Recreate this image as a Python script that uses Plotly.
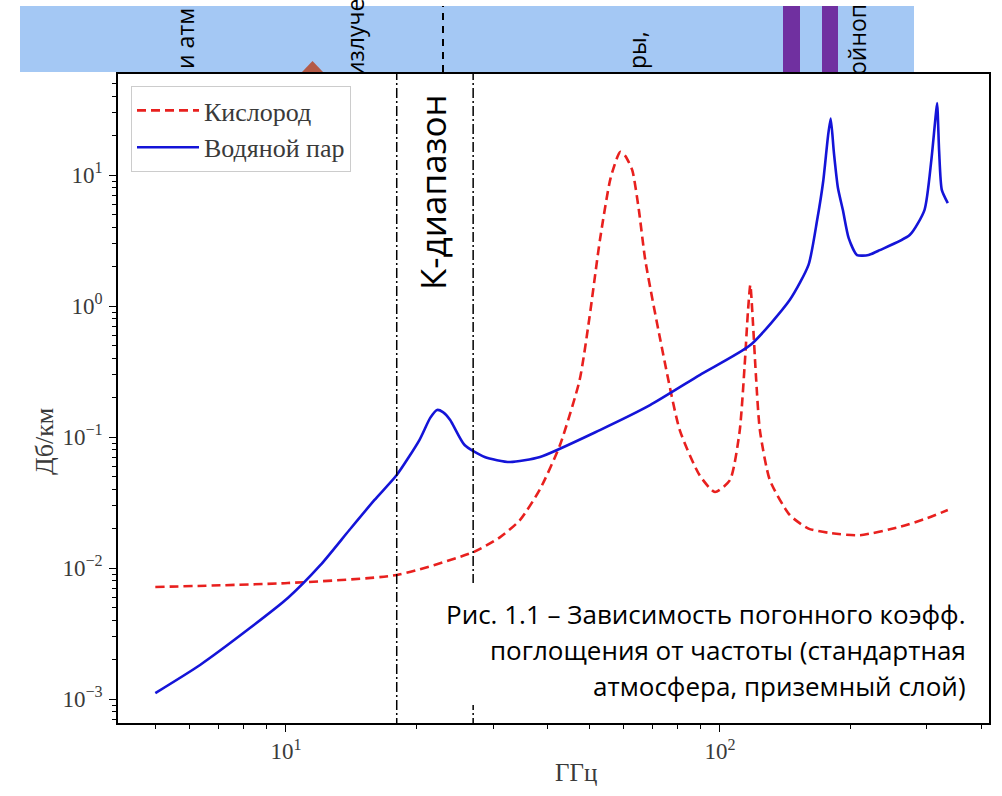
import numpy as np
import plotly.graph_objects as go

# ---------------- data ----------------
freq_o2 = [5, 10.1, 18, 27, 31, 34.6, 38.5, 42.8, 47.5, 50, 52.9, 56, 58.9, 60.5,
           62.8, 65, 67.3, 72.9, 80.8, 89.8, 97.4, 105.5, 111, 114, 116, 117.5,
           119, 121, 123.6, 130.3, 144.8, 160, 179.3, 210, 260, 300, 335]
att_o2 = [0.00716, 0.00768, 0.00885, 0.0132, 0.0170, 0.0232, 0.040, 0.0869, 0.272,
          0.80, 3.19, 9.5, 15.0, 14.0, 10.9, 5.5, 2.24, 0.55, 0.113, 0.051, 0.038,
          0.047, 0.11, 0.35, 0.90, 1.45, 0.80, 0.30, 0.113, 0.047, 0.0254, 0.020,
          0.0185, 0.0178, 0.0206, 0.024, 0.0277]

freq_h2o = [5, 6.34, 8.26, 10.1, 12, 14, 16, 18, 20.3, 21.5, 22.3, 23, 23.9, 25.8,
            28.7, 32.8, 38.5, 52.9, 69, 89.8, 117.5, 144.8, 160, 167.5, 173, 177.5,
            180, 183, 187, 192, 198, 207, 220, 233.5, 273.7, 296, 307, 313, 316.5,
            320, 324.5, 335]
att_h2o = [0.00111, 0.00182, 0.00348, 0.0059, 0.0105, 0.0195, 0.0331, 0.0513, 0.0948,
           0.14, 0.161, 0.155, 0.135, 0.0869, 0.0704, 0.0644, 0.0704, 0.113, 0.175,
           0.297, 0.503, 1.11, 2.06, 4.53, 9.0, 20.0, 27.0, 15.0, 8.0, 5.4, 3.3, 2.45,
           2.45, 2.67, 3.48, 5.4, 13.0, 25.0, 35.4, 15.0, 7.7, 6.1]

k_band = [18, 27]
series_names = ["Кислород", "Водяной пар"]
x_ticks = [10, 100]
x_ticktext = ["10<sup>1</sup>", "10<sup>2</sup>"]
y_ticks = [1e-3, 1e-2, 1e-1, 1e0, 1e1]
y_ticktext = ["10<sup>−3</sup>", "10<sup>−2</sup>", "10<sup>−1</sup>", "10<sup>0</sup>", "10<sup>1</sup>"]
caption_lines = ["Рис. 1.1 – Зависимость погонного коэфф.",
                 "поглощения от частоты (стандартная",
                 "атмосфера, приземный слой)"]
band_texts = ["и атм", "излуче", "ры,", "ойноп"]

# ---------------- geometry helpers (pixel -> paper) ----------------
W, H = 1002, 796
L, R, T, B = 118, 989, 74, 723
def px(x):
    return (x - L) / (R - L)
def py(y):
    return (B - y) / (B - T)

x_range = [0.613, 2.620]
y_range = [-3.183, 1.771]

serif = "Liberation Serif, DejaVu Serif, serif"
sans = "Open Sans, Noto Sans, sans-serif"

fig = go.Figure()
fig.add_trace(go.Scatter(x=freq_o2, y=att_o2, mode="lines", name=series_names[0],
                         legendgroup="a",
                         line=dict(color="#e8201e", width=2.6, dash="9px,5px",
                                   shape="spline", smoothing=0.6)))
fig.add_trace(go.Scatter(x=freq_h2o, y=att_h2o, mode="lines", name=series_names[1],
                         legendgroup="b",
                         line=dict(color="#1414d8", width=2.6, shape="spline", smoothing=0.6)))
for kx in k_band:
    fig.add_trace(go.Scatter(x=[kx, kx], y=[10 ** (y_range[0] - 1), 10 ** (y_range[1] + 1)],
                             mode="lines", showlegend=False, hoverinfo="skip",
                             line=dict(color="black", width=1.5, dash="10px,3px,2px,3px")))

minor_x = [m * 10 ** d for d in range(0, 3) for m in range(2, 10)]
minor_y = [m * 10.0 ** d for d in range(-4, 2) for m in range(2, 10)]

axis_common = dict(type="log", showgrid=False, zeroline=False, showline=True,
                   linecolor="black", linewidth=1.6, mirror=True, ticks="outside",
                   ticklen=7, tickwidth=1.2, tickcolor="black",
                   tickfont=dict(family=serif, size=23, color="#3a3a3a"))
fig.update_xaxes(range=x_range, tickvals=x_ticks, ticktext=x_ticktext,
                 minor=dict(tickvals=minor_x, ticks="outside", ticklen=4, tickcolor="black"),
                 **axis_common)
fig.update_yaxes(range=y_range, tickvals=y_ticks, ticktext=y_ticktext,
                 minor=dict(tickvals=minor_y, ticks="outside", ticklen=4, tickcolor="black"),
                 ticklabelstandoff=2, **axis_common)

shapes = []
# top band
shapes.append(dict(type="rect", xref="paper", yref="paper", x0=px(20), x1=px(914),
                   y0=py(72), y1=py(6), fillcolor="#a4c8f4", line=dict(width=0), layer="above"))
for x0, x1 in [(783, 800), (822, 838)]:
    shapes.append(dict(type="rect", xref="paper", yref="paper", x0=px(x0), x1=px(x1),
                       y0=py(72), y1=py(6), fillcolor="#7030a0", line=dict(width=0), layer="above"))
shapes.append(dict(type="path", xref="paper", yref="paper",
                   path=f"M {px(302)},{py(72)} L {px(312.5)},{py(61)} L {px(323)},{py(72)} Z",
                   fillcolor="#b45a47", line=dict(width=0), layer="above"))
shapes.append(dict(type="line", xref="paper", yref="paper", x0=px(443), x1=px(443),
                   y0=py(72), y1=py(6), line=dict(color="black", width=2, dash="7px,6px"),
                   layer="above"))
# caption white box
shapes.append(dict(type="rect", xref="paper", yref="paper", x0=px(470), x1=px(986),
                   y0=py(705), y1=py(583), fillcolor="white", line=dict(width=0), layer="above"))
fig.update_layout(shapes=shapes)

ann = []
band_pos = [(185, 39), (355, 38), (637, 50), (857, 40)]
for t, (bx, by) in zip(band_texts, band_pos):
    ann.append(dict(text=t, x=px(bx), y=py(by), xref="paper", yref="paper",
                    showarrow=False, textangle=-90, xanchor="center", yanchor="middle",
                    font=dict(family=sans, size=23, color="black")))
ann.append(dict(text="К-диапазон", x=px(433), y=py(192), xref="paper", yref="paper",
                showarrow=False, textangle=-90, xanchor="center", yanchor="middle",
                font=dict(family=sans, size=35, color="black")))
for i, line in enumerate(caption_lines):
    ann.append(dict(text=line, x=px(968), y=py(614 + 36 * i), xref="paper", yref="paper",
                    showarrow=False, xanchor="right", yanchor="middle",
                    font=dict(family=sans, size=26, color="black")))
ann.append(dict(text="Дб/км", x=px(44), y=py(442), xref="paper", yref="paper",
                showarrow=False, textangle=-90, xanchor="center", yanchor="middle",
                font=dict(family=serif, size=26, color="#3a3a3a")))
ann.append(dict(text="ГГц", x=px(576), y=py(772), xref="paper", yref="paper",
                showarrow=False, xanchor="center", yanchor="middle",
                font=dict(family=serif, size=25, color="#3a3a3a")))
fig.update_layout(annotations=ann)

fig.update_layout(
    width=W, height=H,
    margin=dict(l=L, r=W - R, t=T, b=H - B),
    paper_bgcolor="white", plot_bgcolor="white",
    showlegend=True,
    legend=dict(x=px(131), y=py(86), xanchor="left", yanchor="top",
                bgcolor="rgba(255,255,255,0.9)", bordercolor="#cccccc", borderwidth=1,
                font=dict(family=serif, size=26, color="#3a3a3a"), tracegroupgap=0,
                itemwidth=62),
)

fig.write_html("out.html")
